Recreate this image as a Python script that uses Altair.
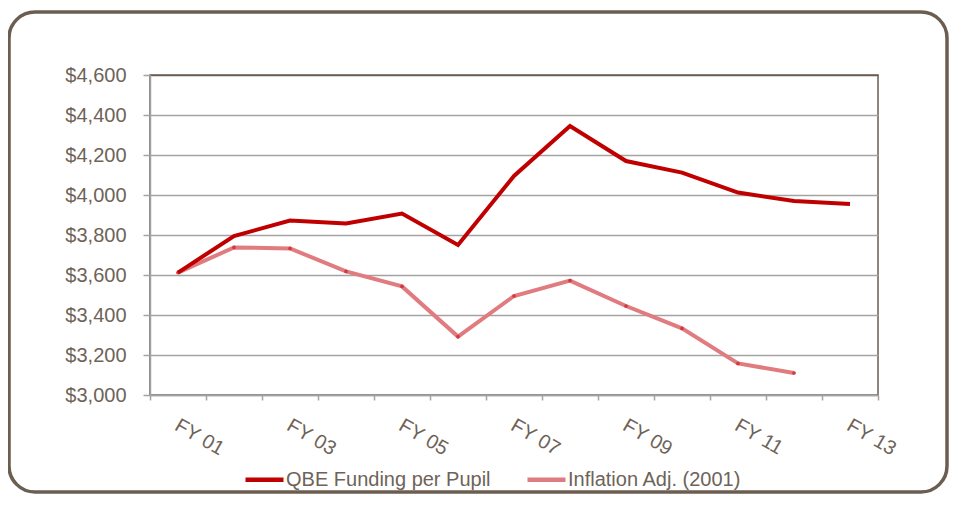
import json
import altair as alt
import pandas as pd

years = ["FY 01", "FY 02", "FY 03", "FY 04", "FY 05", "FY 06", "FY 07",
         "FY 08", "FY 09", "FY 10", "FY 11", "FY 12", "FY 13"]
qbe = [3612, 3795, 3872, 3858, 3907, 3750, 4095, 4345, 4170, 4112, 4012, 3970, 3955]
inflation = [3612, 3738, 3733, 3618, 3543, 3292, 3495, 3572, 3445, 3333, 3158, 3110]
series_names = ["QBE Funding per Pupil", "Inflation Adj. (2001)"]
series_colors = ["#c00000", "#e07c80"]
y_ticks = [3000, 3200, 3400, 3600, 3800, 4000, 4200, 4400, 4600]
label_years = ["FY 01", "FY 03", "FY 05", "FY 07", "FY 09", "FY 11", "FY 13"]

TEXT = "#6e6358"
GRID = "#a3a3a3"
BROWN = "#6b5e51"
FONT = "Liberation Sans"

qbe_df = pd.DataFrame({"year": years, "value": qbe, "series": series_names[0]})
inf_df = pd.DataFrame({"year": years[:len(inflation)], "value": inflation,
                       "series": series_names[1]})

label_expr = "indexof(" + json.dumps(label_years) + ", datum.value) >= 0 ? datum.label : ''"

x_enc = alt.X(
    "year:N", sort=years, bandPosition=0.5,
    scale=alt.Scale(type="band", domain=years, paddingInner=0, paddingOuter=0),
    axis=alt.Axis(title=None, tickBand="extent", labelAngle=30, labelAlign="left",
                  labelBaseline="top", labelPadding=15, labelOffset=3, labelOverlap=False,
                  labelExpr=label_expr, tickSize=5, tickColor=GRID, tickWidth=1.5,
                  domainColor=GRID, domainWidth=1.5, grid=False,
                  labelFontSize=20, labelColor=TEXT, labelFont=FONT),
)
y_enc = alt.Y(
    "value:Q",
    scale=alt.Scale(domain=[3000, 4600], nice=False, zero=False),
    axis=alt.Axis(title=None, values=y_ticks, format="$,.0f", tickSize=7,
                  tickColor=GRID, tickWidth=1.5, labelPadding=17,
                  domainColor=GRID, domainWidth=1.5,
                  gridColor={"condition": {"test": "datum.value >= 4600", "value": BROWN},
                             "value": GRID},
                  gridWidth=1.5, labelFontSize=20, labelColor=TEXT, labelFont=FONT),
)
color_enc = alt.Color(
    "series:N",
    scale=alt.Scale(domain=series_names, range=series_colors),
    legend=alt.Legend(orient="none", legendX=93, legendY=383, direction="horizontal",
                      title=None, symbolType="stroke", symbolSize=1444,
                      symbolStrokeWidth=4.5, labelFontSize=20, labelColor=TEXT,
                      labelFont=FONT, labelOffset=0, columnPadding=27, padding=0,
                      labelLimit=400),
)

border = alt.Chart(pd.DataFrame({"a": [0]})).mark_rect(
    fill="white", fillOpacity=0, stroke=BROWN, strokeWidth=3.5, cornerRadius=26
).encode(x=alt.value(-141), x2=alt.value(797), y=alt.value(-63), y2=alt.value(417))

inf_line = alt.Chart(inf_df).mark_line(strokeWidth=4).encode(x=x_enc, y=y_enc, color=color_enc)
inf_pts = alt.Chart(inf_df).mark_circle(size=14, opacity=1, color="#d23a40").encode(x=x_enc, y=y_enc)
qbe_line = alt.Chart(qbe_df).mark_line(strokeWidth=4).encode(x=x_enc, y=y_enc, color=color_enc)

chart = alt.layer(border, inf_line, inf_pts, qbe_line).properties(
    width=728, height=320,
    padding={"left": 142, "top": 67, "right": 78, "bottom": 99},
    autosize=alt.AutoSizeParams(type="none"),
    background="white",
).configure(font=FONT).configure_view(stroke=BROWN, strokeWidth=1.5)

chart.save("out.html", embed_options={"renderer": "svg", "actions": False})
